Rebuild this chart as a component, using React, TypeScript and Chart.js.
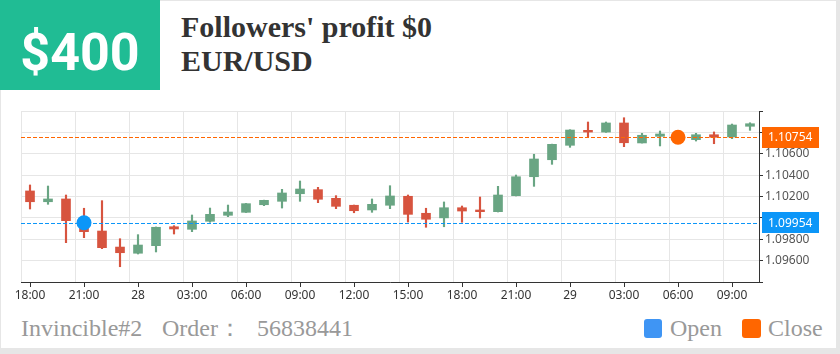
import React, { useEffect, useRef } from "react";
import { Chart, registerables } from "chart.js";

Chart.register(...registerables);

const categories = [
  "18:00", "19:00", "20:00", "21:00", "22:00", "23:00",
  "28", "01:00", "02:00", "03:00", "04:00", "05:00", "06:00", "07:00", "08:00", "09:00",
  "10:00", "11:00", "12:00", "13:00", "14:00", "15:00", "16:00", "17:00", "18:00", "19:00",
  "20:00", "21:00", "22:00", "23:00",
  "29", "01:00", "02:00", "03:00", "04:00", "05:00", "06:00", "07:00", "08:00", "09:00", "10:00",
];

const openValues = [
  1.10252, 1.10151, 1.10177, 1.09968, 1.09877, 1.09727, 1.09669, 1.0974, 1.09917, 1.09893,
  1.09968, 1.10024, 1.10052, 1.10123, 1.10155, 1.10226, 1.10264, 1.10183, 1.10118, 1.10074,
  1.10118, 1.10202, 1.10043, 1.1, 1.10095, 1.10074, 1.10058, 1.10208, 1.10385, 1.10544,
  1.10679, 1.10819, 1.10803, 1.10888, 1.10701, 1.10763, 1.10765, 1.10732, 1.10778, 1.10757,
  1.10857,
];
const highValues = [
  1.10308, 1.10298, 1.10214, 1.1009, 1.10161, 1.09805, 1.09843, 1.09915, 1.09927, 1.10027,
  1.10092, 1.1012, 1.10135, 1.10166, 1.10267, 1.10345, 1.10286, 1.10208, 1.1012, 1.10177,
  1.10301, 1.10214, 1.1009, 1.10149, 1.10111, 1.10195, 1.10295, 1.10401, 1.10595, 1.1069,
  1.10825, 1.10897, 1.10897, 1.10937, 1.10791, 1.10813, 1.1078, 1.10791, 1.10804, 1.10878,
  1.1089,
];
const lowValues = [
  1.10083, 1.10127, 1.09768, 1.09815, 1.09712, 1.09543, 1.09662, 1.09681, 1.09849, 1.09871,
  1.09959, 1.10011, 1.1005, 1.10114, 1.10092, 1.10155, 1.10142, 1.10086, 1.10048, 1.10052,
  1.10086, 1.09961, 1.09912, 1.09917, 1.09959, 1.09999, 1.10055, 1.10205, 1.10295, 1.10501,
  1.1066, 1.10757, 1.108, 1.10666, 1.107, 1.10673, 1.1074, 1.10719, 1.10694, 1.10741,
  1.10819,
];
const closeValues = [
  1.10151, 1.10177, 1.09974, 1.09871, 1.09721, 1.09674, 1.09746, 1.09912, 1.09896, 1.09971,
  1.10033, 1.10055, 1.10133, 1.10164, 1.10233, 1.1027, 1.10174, 1.10108, 1.10067, 1.10127,
  1.10205, 1.10033, 1.09987, 1.10095, 1.10064, 1.10058, 1.10214, 1.10385, 1.10551, 1.10688,
  1.10822, 1.10803, 1.10888, 1.10703, 1.10773, 1.10785, 1.10754, 1.10778, 1.10754, 1.10869,
  1.10881,
];

const yTickValues = [1.094, 1.096, 1.098, 1.1, 1.102, 1.104, 1.106, 1.108, 1.11];
const yTickLabels = ["", "1.09600", "1.09800", "1.10000", "1.10200", "1.10400", "1.10600", "1.10800", ""];

const OPEN_INDEX = 3;
const OPEN_PRICE = 1.09954;
const OPEN_LABEL = "1.09954";
const CLOSE_INDEX = 36;
const CLOSE_PRICE = 1.10754;
const CLOSE_LABEL = "1.10754";

const UP = "#69a583";
const DOWN = "#d7543f";
const BLUE = "#0c96f8";
const ORANGE = "#ff6600";
const GRID = "#e6e6e6";
const AXIS = "#333333";

function drawDashes(ctx: CanvasRenderingContext2D, left: number, right: number, py: number, color: string) {
  ctx.save();
  ctx.fillStyle = color;
  for (let xx = left; xx < right; xx += 6) {
    ctx.fillRect(xx, py, Math.min(4, right - xx), 1);
  }
  ctx.restore();
}

export default function App() {
  const ref = useRef<HTMLCanvasElement | null>(null);

  useEffect(() => {
    const canvas = ref.current;
    if (!canvas) return;
    const colors = openValues.map((o, i) => (closeValues[i] >= o ? UP : DOWN));

    const overlay = {
      id: "overlay",
      beforeDatasetsDraw(chart: any) {
        const { ctx, chartArea: a, scales } = chart;
        const x = scales.x;
        ctx.save();
        const cw = x.getPixelForValue(1) - x.getPixelForValue(0);
        ctx.fillStyle = GRID;
        for (let i = 0; i < categories.length; i += 3) {
          const px = Math.round(x.getPixelForValue(i) - cw / 2);
          ctx.fillRect(px, a.top, 1, a.bottom - a.top);
        }
        ctx.restore();
      },
      afterDatasetsDraw(chart: any) {
        const { ctx, chartArea: a, scales } = chart;
        drawDashes(ctx, a.left, a.right, Math.round(scales.y.getPixelForValue(CLOSE_PRICE)), ORANGE);
      },
      afterDraw(chart: any) {
        const { ctx, chartArea: a, scales } = chart;
        const x = scales.x;
        const y = scales.y;
        drawDashes(ctx, a.left, a.right, Math.round(y.getPixelForValue(OPEN_PRICE)), BLUE);
        ctx.save();
        ctx.fillStyle = AXIS;
        for (let i = 0; i < categories.length; i += 3) {
          const px = Math.round(x.getPixelForValue(i));
          ctx.fillRect(px, a.bottom, 1, 5);
        }
        const boxes: [number, string, string][] = [
          [OPEN_PRICE, OPEN_LABEL, BLUE],
          [CLOSE_PRICE, CLOSE_LABEL, ORANGE],
        ];
        ctx.font = "12px 'Noto Sans'";
        ctx.textBaseline = "middle";
        ctx.textAlign = "left";
        for (const [p, t, c] of boxes) {
          const py = y.getPixelForValue(p);
          const bx = a.right + 3;
          ctx.fillStyle = c;
          ctx.fillRect(bx, Math.round(py - 10.5), 57, 21);
          ctx.fillStyle = "#ffffff";
          ctx.fillText(t, bx + 6, py + 0.5);
        }
        ctx.restore();
      },
    };

    const chart = new Chart(canvas, {
      type: "bar",
      data: {
        labels: categories,
        datasets: [
          {
            type: "line",
            label: "Open",
            data: categories.map((_, i) => (i === OPEN_INDEX ? OPEN_PRICE : null)),
            showLine: false,
            pointRadius: 7.5,
            pointBackgroundColor: BLUE,
            pointBorderWidth: 0,
            order: -2,
          } as any,
          {
            type: "line",
            label: "Close",
            data: categories.map((_, i) => (i === CLOSE_INDEX ? CLOSE_PRICE : null)),
            showLine: false,
            pointRadius: 7.5,
            pointBackgroundColor: ORANGE,
            pointBorderWidth: 0,
            order: -1,
          } as any,
          {
            label: "body",
            data: openValues.map((o, i) => [o, closeValues[i]]),
            backgroundColor: colors,
            barThickness: 9,
            minBarLength: 1,
            grouped: false,
            borderSkipped: false,
            borderWidth: 0,
            order: 0,
          } as any,
          {
            label: "wick",
            data: lowValues.map((l, i) => [l, highValues[i]]),
            backgroundColor: colors,
            barThickness: 1.5,
            grouped: false,
            borderSkipped: false,
            borderWidth: 0,
            order: 1,
          } as any,
        ],
      },
      options: {
        responsive: false,
        animation: false,
        devicePixelRatio: 1,
        layout: { padding: { left: 21, top: 11, right: 0, bottom: 0 } },
        plugins: { legend: { display: false }, tooltip: { enabled: false } },
        scales: {
          x: {
            type: "category",
            offset: true,
            grid: { display: false, drawTicks: false },
            border: { display: true, color: AXIS, width: 1 },
            ticks: {
              autoSkip: false,
              maxRotation: 0,
              minRotation: 0,
              padding: 6,
              color: "#333",
              font: { family: "'Noto Sans'", size: 12 },
              callback: (_v: any, i: number) => (i % 3 === 0 ? categories[i] : ""),
            },
            afterFit: (s: any) => {
              s.height = 18;
            },
          },
          y: {
            type: "linear",
            position: "right",
            min: 1.094,
            max: 1.11,
            afterBuildTicks: (s: any) => {
              s.ticks = yTickValues.map((v) => ({ value: v }));
            },
            grid: { color: GRID, drawTicks: true, tickLength: 4, tickColor: AXIS },
            border: { display: true, color: AXIS, width: 1 },
            ticks: {
              padding: 2,
              color: "#555",
              font: { family: "'Noto Sans'", size: 12 },
              callback: (_v: any, i: number) => yTickLabels[i],
            },
            afterFit: (s: any) => {
              s.width = 81;
            },
          },
        },
      } as any,
      plugins: [overlay],
    });
    return () => chart.destroy();
  }, []);

  const serif = "'Liberation Serif', 'Times New Roman', serif";
  return (
    <div style={{ position: "fixed", left: 0, top: 0, width: 840, height: 354, background: "#e6e6e6", overflow: "hidden" }}>
      <div style={{ position: "absolute", left: 1, top: 1, width: 835, height: 347, background: "#ffffff" }} />
      <div style={{ position: "absolute", left: 0, top: 0, width: 160, height: 90, background: "#20bc94" }}>
        <div style={{ position: "absolute", left: 0, right: 0, top: 27, textAlign: "center", color: "#fff", font: "bold 52px Roboto", lineHeight: "52px" }}>
          $400
        </div>
      </div>
      <div style={{ position: "absolute", left: 181, top: 12, font: `bold 30px ${serif}`, lineHeight: "30px", color: "#333", whiteSpace: "nowrap" }}>
        Followers' profit $0
      </div>
      <div style={{ position: "absolute", left: 181, top: 46, font: `bold 30px ${serif}`, lineHeight: "30px", color: "#333", whiteSpace: "nowrap" }}>
        EUR/USD
      </div>
      <canvas ref={ref} width={840} height={200} style={{ position: "absolute", left: 0, top: 100, display: "block", width: 840, height: 200 }} />
      <div style={{ position: "absolute", left: 21, top: 316, font: `24px ${serif}`, lineHeight: "24px", color: "#999", whiteSpace: "nowrap" }}>
        Invincible#2
      </div>
      <div style={{ position: "absolute", left: 162, top: 316, font: `24px ${serif}`, lineHeight: "24px", color: "#999", whiteSpace: "nowrap" }}>
        Order：
      </div>
      <div style={{ position: "absolute", left: 257, top: 316, font: `24px ${serif}`, lineHeight: "24px", color: "#999", whiteSpace: "nowrap" }}>
        56838441
      </div>
      <div style={{ position: "absolute", left: 644, top: 319, width: 18, height: 19, borderRadius: 3, background: "#3f95f4" }} />
      <div style={{ position: "absolute", left: 670, top: 316, font: `24px ${serif}`, lineHeight: "24px", color: "#999", whiteSpace: "nowrap" }}>
        Open
      </div>
      <div style={{ position: "absolute", left: 742, top: 319, width: 19, height: 19, borderRadius: 3, background: "#ff6600" }} />
      <div style={{ position: "absolute", left: 768, top: 316, font: `24px ${serif}`, lineHeight: "24px", color: "#999", whiteSpace: "nowrap" }}>
        Close
      </div>
    </div>
  );
}
